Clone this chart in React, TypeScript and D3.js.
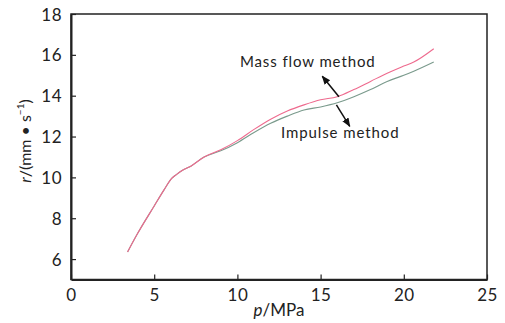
import React, { useEffect, useRef } from 'react';
import * as d3 from 'd3';

// pressure p (MPa)
const pressure = [3.4, 4.0, 5.0, 5.6, 6.05, 6.35, 6.7, 7.2, 8.0, 9.0, 10.0, 11.0, 12.0, 13.0, 14.0, 15.0, 16.0, 17.0, 18.0, 19.0, 20.0, 20.6, 21.8];
// burning rate r (mm/s)
const massFlow = [6.35, 7.25, 8.6, 9.4, 9.95, 10.15, 10.35, 10.55, 11.0, 11.35, 11.8, 12.35, 12.85, 13.25, 13.55, 13.8, 13.95, 14.3, 14.7, 15.1, 15.45, 15.65, 16.3];
const impulse = [6.35, 7.25, 8.6, 9.4, 9.95, 10.15, 10.35, 10.55, 11.0, 11.3, 11.7, 12.2, 12.65, 13.0, 13.3, 13.45, 13.65, 13.95, 14.3, 14.7, 15.0, 15.2, 15.65];
const xTicks = [0, 5, 10, 15, 20, 25];
const yTicks = [6, 8, 10, 12, 14, 16, 18];

const W = 505;
const H = 323;
const M = { left: 71, right: 18, top: 14, bottom: 43.5 };
const FONT = 'Lato, "Open Sans", sans-serif';

const App = () => {
  const svgRef = useRef<SVGSVGElement>(null);

  useEffect(() => {
    const svg = d3.select(svgRef.current);
    svg.selectAll('*').remove();

    const x = d3.scaleLinear().domain([0, 25]).range([M.left, W - M.right]);
    const y = d3.scaleLinear().domain([5, 18]).range([H - M.bottom, M.top]);

    svg.append('defs').append('marker')
      .attr('id', 'arr')
      .attr('viewBox', '0 0 10 10')
      .attr('refX', 9).attr('refY', 5)
      .attr('markerWidth', 9).attr('markerHeight', 9)
      .attr('markerUnits', 'userSpaceOnUse')
      .attr('orient', 'auto')
      .append('path').attr('d', 'M0,1 L10,5 L0,9 z').attr('fill', '#111');

    // frame
    svg.append('rect')
      .attr('x', M.left).attr('y', M.top)
      .attr('width', W - M.left - M.right)
      .attr('height', H - M.top - M.bottom)
      .attr('fill', 'none').attr('stroke', '#222').attr('stroke-width', 1.5);

    const xAxis = d3.axisBottom(x).tickValues(xTicks).tickSizeInner(-5).tickSizeOuter(0).tickPadding(9);
    const gx = svg.append('g').attr('transform', `translate(0,${H - M.bottom})`).call(xAxis);
    const yAxis = d3.axisLeft(y).tickValues(yTicks).tickSizeInner(-5).tickSizeOuter(0).tickPadding(9);
    const gy = svg.append('g').attr('transform', `translate(${M.left},0)`).call(yAxis);

    [gx, gy].forEach(g => {
      g.select('.domain').attr('stroke', '#222').attr('stroke-width', 2);
      g.selectAll('.tick line').attr('stroke', '#222').attr('stroke-width', 1.2);
      g.selectAll('.tick text')
        .attr('fill', '#222')
        .style('font-family', FONT)
        .style('font-size', '17px')
        .style('letter-spacing', '0.5px');
    });
    gy.selectAll('.tick text').attr('dy', '0.36em');

    const lineGen = d3.line<number>()
      .x((d, i) => x(pressure[i]))
      .y(d => y(d))
      .curve(d3.curveMonotoneX);

    svg.append('path')
      .datum(impulse)
      .attr('fill', 'none').attr('stroke', '#7a9a8c').attr('stroke-width', 1.1)
      .attr('d', lineGen);
    svg.append('path')
      .datum(massFlow)
      .attr('fill', 'none').attr('stroke', '#ee6a8e').attr('stroke-width', 1.1)
      .attr('d', lineGen);

    // annotations
    svg.append('line')
      .attr('x1', x(16.1)).attr('y1', y(13.95))
      .attr('x2', x(15.1)).attr('y2', y(14.95))
      .attr('stroke', '#111').attr('stroke-width', 1.5)
      .attr('marker-end', 'url(#arr)');
    svg.append('line')
      .attr('x1', x(15.95)).attr('y1', y(13.55))
      .attr('x2', x(16.75)).attr('y2', y(12.5))
      .attr('stroke', '#111').attr('stroke-width', 1.5)
      .attr('marker-end', 'url(#arr)');

    svg.append('text')
      .attr('x', x(10.15)).attr('y', y(15.4))
      .attr('fill', '#222')
      .style('font-family', FONT).style('font-size', '15px').style('letter-spacing', '0.9px')
      .text('Mass flow method');
    svg.append('text')
      .attr('x', x(12.62)).attr('y', y(11.95))
      .attr('fill', '#222')
      .style('font-family', FONT).style('font-size', '15px').style('letter-spacing', '0.9px')
      .text('Impulse method');

    // axis titles
    const xt = svg.append('text')
      .attr('x', (M.left + W - M.right) / 2).attr('y', 316)
      .attr('text-anchor', 'middle').attr('fill', '#222')
      .style('font-family', FONT).style('font-size', '17px');
    xt.append('tspan').attr('font-style', 'italic').text('p');
    xt.append('tspan').text('/MPa');

    const yt = svg.append('text')
      .attr('transform', `translate(31,141) rotate(-90)`)
      .attr('text-anchor', 'middle').attr('fill', '#222')
      .style('font-family', FONT).style('font-size', '16px');
    yt.append('tspan').attr('font-style', 'italic').text('r');
    yt.append('tspan').text('/(mm • s');
    yt.append('tspan').attr('dy', -7).style('font-size', '10px').text('−1');
    yt.append('tspan').attr('dy', 7).text(')');
  }, []);

  return <svg ref={svgRef} width={W} height={H} style={{ position: 'absolute', left: 0, top: 0, background: '#fff' }} />;
};

export default App;
